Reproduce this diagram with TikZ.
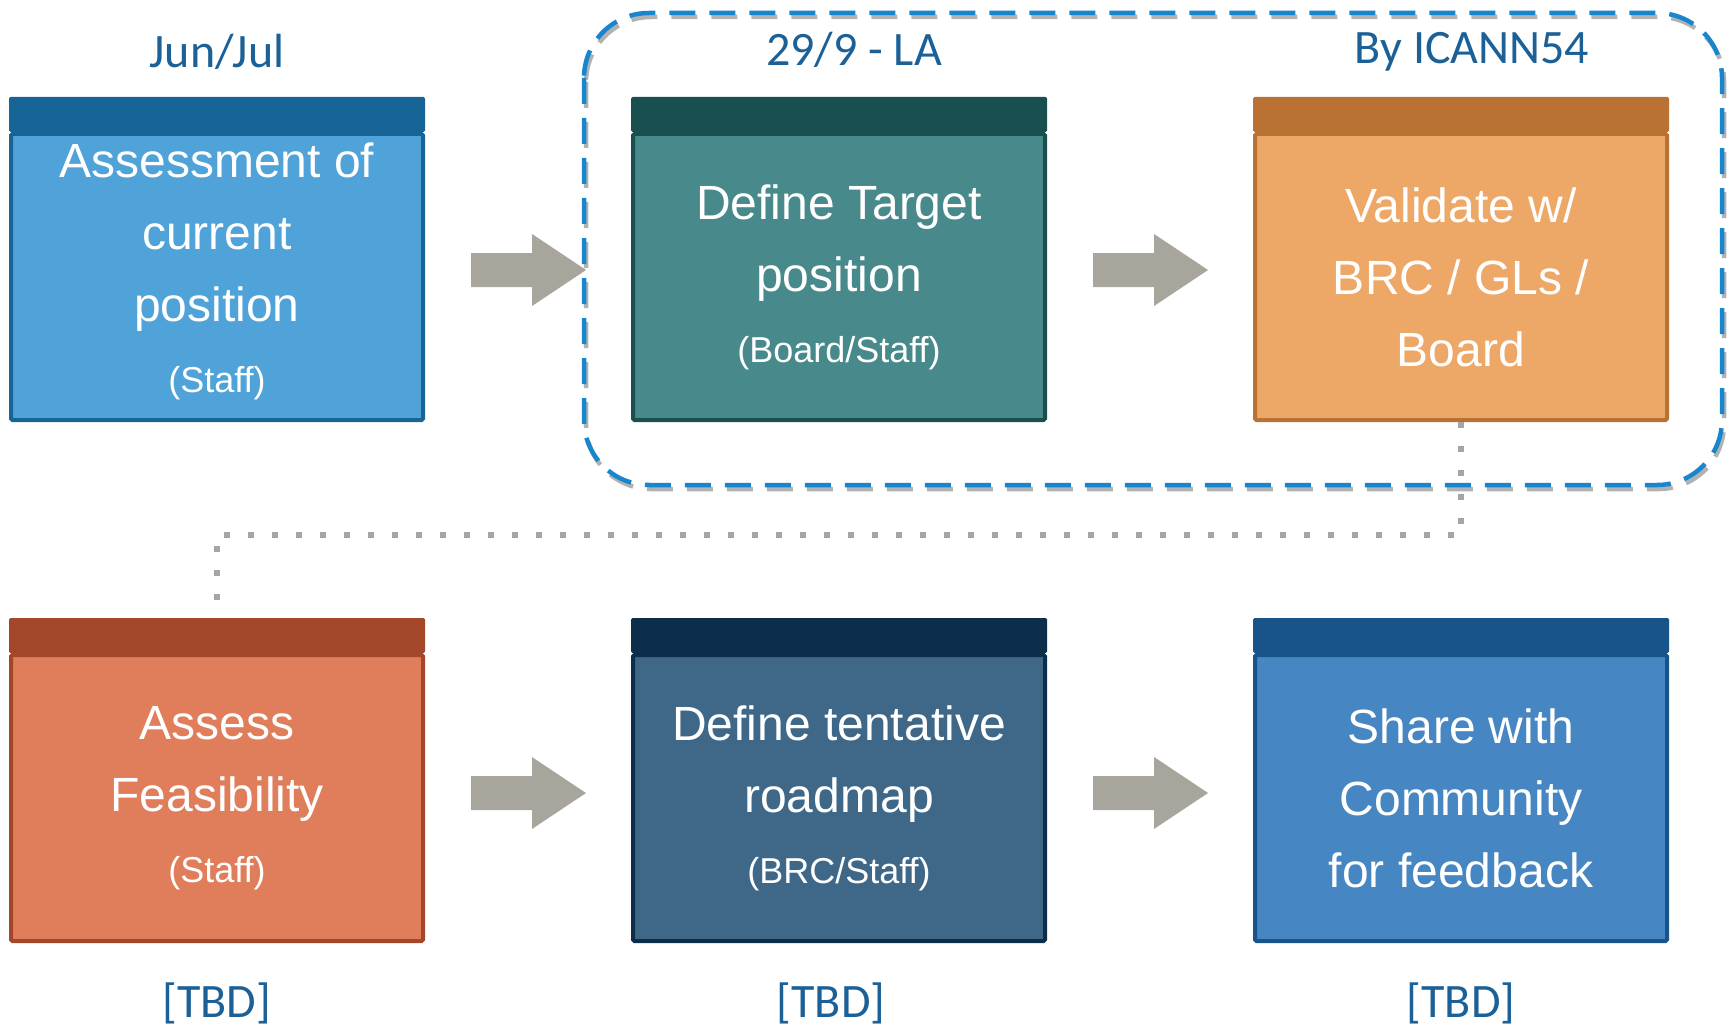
\documentclass[tikz,border=0pt]{standalone}
\usepackage{fontspec}
\setmainfont{Liberation Sans}
\newfontfamily\datefont{Carlito}
\usetikzlibrary{positioning,calc}

\definecolor{skyfill}{HTML}{4FA3D8}
\definecolor{skyhead}{HTML}{176497}
\definecolor{tealfill}{HTML}{488A8C}
\definecolor{tealhead}{HTML}{17504F}
\definecolor{sandfill}{HTML}{EDA766}
\definecolor{sandhead}{HTML}{B97233}
\definecolor{rustfill}{HTML}{E07E5B}
\definecolor{rusthead}{HTML}{A2472A}
\definecolor{navyfill}{HTML}{3F6888}
\definecolor{navyhead}{HTML}{0D2E4A}
\definecolor{cobaltfill}{HTML}{4686C2}
\definecolor{cobalthead}{HTML}{18548A}
\definecolor{arrowgray}{HTML}{A8A59D}
\definecolor{groupblue}{HTML}{1786CE}
\definecolor{dateblue}{HTML}{1B6096}
\definecolor{dotgray}{HTML}{A5A5A5}

\newcommand\rolenote[1]{{\fontsize{36}{44}\selectfont #1}}

\tikzset{
  stepbox/.style 2 args={draw=#2, fill=#1, line width=4pt, rounded corners=1.5pt,
    minimum width=412pt, minimum height=286pt, inner sep=0pt,
    text=white, align=center, font=\fontsize{48}{72}\selectfont},
  datelabel/.style={text=dateblue, font=\datefont\fontsize{48}{58}\selectfont, inner sep=0pt},
  blockarrow/.pic={\fill[arrowgray] (-57,-17) -- (4,-17) -- (4,-36) -- (58,0) -- (4,36) -- (4,17) -- (-57,17) -- cycle;},
  linkdots/.style={dotgray, line width=6pt, dash pattern=on 6pt off 18pt},
  groupline/.style={line width=4.5pt, dash pattern=on 26pt off 14pt, rounded corners=65pt}
}

\begin{document}
\begin{tikzpicture}[x=1pt,y=-1pt]
\useasboundingbox (0,0) rectangle (1729,1027);

% the six steps
\node[stepbox={skyfill}{skyhead}] (b1) at (217,277) {Assessment of\\current\\position\\[-1pt]\rolenote{(Staff)\rule[-19pt]{0pt}{0pt}}};
\node[stepbox={tealfill}{tealhead}, right=206pt of b1] (b2) {Define Target\\position\\[-1pt]\rolenote{(Board/Staff)}};
\node[stepbox={sandfill}{sandhead}, right=206pt of b2] (b3) {Validate w/\\BRC / GLs /\\Board};
\node[stepbox={rustfill}{rusthead}, below=231pt of b1] (b4) {Assess\\Feasibility\\[-1pt]\rolenote{(Staff)}};
\node[stepbox={navyfill}{navyhead}, right=206pt of b4] (b5) {Define tentative\\roadmap\\[-1pt]\rolenote{(BRC/Staff)}};
\node[stepbox={cobaltfill}{cobalthead}, right=206pt of b5] (b6) {Share with\\Community\\for feedback};

% header bands
\foreach \n/\c in {b1/skyhead,b2/tealhead,b3/sandhead,b4/rusthead,b5/navyhead,b6/cobalthead}
  \fill[\c, rounded corners=1.5pt] ([yshift=35pt]\n.north west) rectangle (\n.north east);

% dates
\node[datelabel] (t1) at ([yshift=80pt]b1.north) {Jun/Jul};
\node[datelabel] (t2) at ([xshift=15pt,yshift=82pt]b2.north) {29/9 - LA};
\node[datelabel] (t3) at ([xshift=11pt,yshift=80pt]b3.north) {By ICANN54};
\node[datelabel] (t4) at ([yshift=-60pt]b4.south) {[TBD]};
\node[datelabel] (t5) at ([xshift=-8pt,yshift=-60pt]b5.south) {[TBD]};
\node[datelabel] (t6) at ([yshift=-60pt]b6.south) {[TBD]};

% arrows between steps
\pic at ($(b1.east)!0.5!(b2.west)+(0,-7)$) {blockarrow};
\pic at ($(b2.east)!0.5!(b3.west)+(0,-7)$) {blockarrow};
\pic at ($(b4.east)!0.5!(b5.west)+(0,-5)$) {blockarrow};
\pic at ($(b5.east)!0.5!(b6.west)+(0,-5)$) {blockarrow};

% dashed group round b2 and b3
\draw[groupline, black!30, shift={(2,4)}] (584,13) rectangle (1722,485);
\draw[groupline, groupblue] (584,13) rectangle (1722,485);

% link to the second row
\draw[linkdots] (b3.south) -- ++(0,113) -| ([yshift=52pt]b4.north);
\end{tikzpicture}
\end{document}
